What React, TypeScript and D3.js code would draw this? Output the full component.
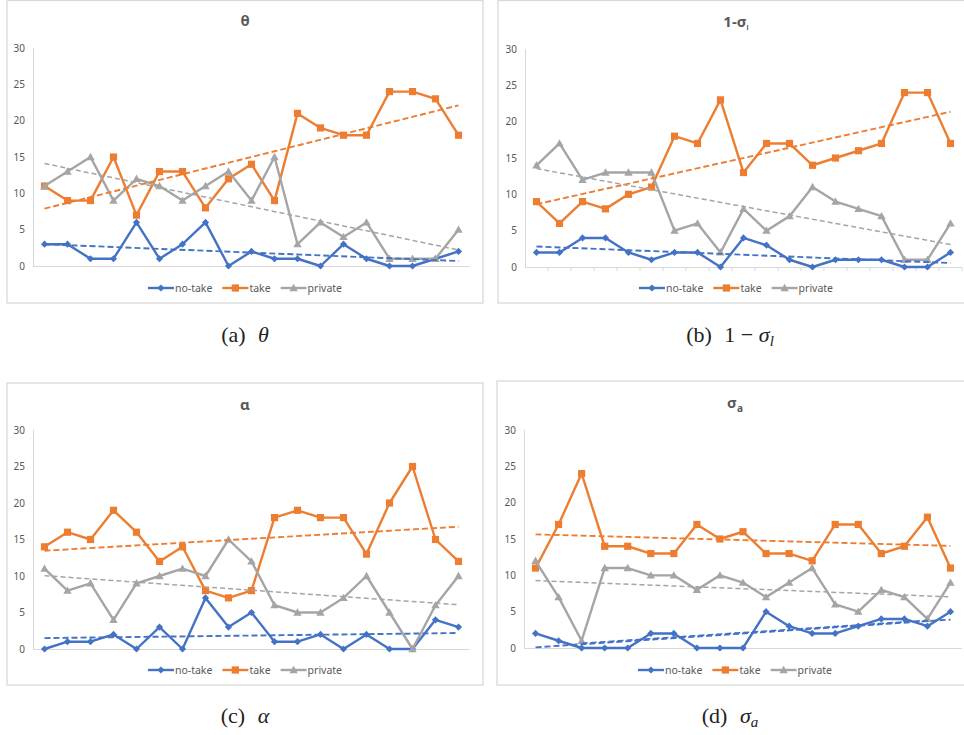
import React, { useEffect, useRef } from 'react';
import * as d3 from 'd3';

const categories = ['1','2','3','4','5','6','7','8','9','10','11','12','13','14','15','16','17','18','19'];
const yTicks = [0, 5, 10, 15, 20, 25, 30];
const seriesNames = ['no-take', 'take', 'private'];

const thetaNoTake = [3,3,1,1,6,1,3,6,0,2,1,1,0,3,1,0,0,1,2];
const thetaTake = [11,9,9,15,7,13,13,8,12,14,9,21,19,18,18,24,24,23,18];
const thetaPrivate = [11,13,15,9,12,11,9,11,13,9,15,3,6,4,6,1,1,1,5];

const sigmaLNoTake = [2,2,4,4,2,1,2,2,0,4,3,1,0,1,1,1,0,0,2];
const sigmaLTake = [9,6,9,8,10,11,18,17,23,13,17,17,14,15,16,17,24,24,17];
const sigmaLPrivate = [14,17,12,13,13,13,5,6,2,8,5,7,11,9,8,7,1,1,6];

const alphaNoTake = [0,1,1,2,0,3,0,7,3,5,1,1,2,0,2,0,0,4,3];
const alphaTake = [14,16,15,19,16,12,14,8,7,8,18,19,18,18,13,20,25,15,12];
const alphaPrivate = [11,8,9,4,9,10,11,10,15,12,6,5,5,7,10,5,0,6,10];

const sigmaANoTake = [2,1,0,0,0,2,2,0,0,0,5,3,2,2,3,4,4,3,5];
const sigmaATake = [11,17,24,14,14,13,13,17,15,16,13,13,12,17,17,13,14,18,11];
const sigmaAPrivate = [12,7,1,11,11,10,10,8,10,9,7,9,11,6,5,8,7,4,9];
// second no-take trend segment visible in panel (d): [category, value] endpoints
const sigmaANoTakeTrend2Cats = ['3', '18'];
const sigmaANoTakeTrend2Vals = [0.65, 3.8];

const COLORS = ['#4472C4', '#ED7D31', '#A5A5A5'];
const TEXT = '#595959';
const GRID = '#d9d9d9';
const FONT = '"Noto Sans", "Open Sans", sans-serif';

function linReg(vals: number[]) {
  const n = vals.length;
  const xs = vals.map((_, i) => i);
  const mx = d3.mean(xs) as number;
  const my = d3.mean(vals) as number;
  let sxy = 0, sxx = 0;
  for (let i = 0; i < n; i++) { sxy += (xs[i] - mx) * (vals[i] - my); sxx += (xs[i] - mx) ** 2; }
  const b = sxy / sxx;
  return (i: number) => my + b * (i - mx);
}

function markerPath(kind: number, cx: number, cy: number) {
  if (kind === 0) {
    const r = 3.6;
    return `M${cx},${cy - r}L${cx + r},${cy}L${cx},${cy + r}L${cx - r},${cy}Z`;
  }
  if (kind === 1) {
    const r = 3.6;
    return `M${cx - r},${cy - r}H${cx + r}V${cy + r}H${cx - r}Z`;
  }
  const r = 4.2;
  return `M${cx},${cy - r}L${cx + r},${cy + r * 0.75}L${cx - r},${cy + r * 0.75}Z`;
}

type Cfg = {
  fx: number; fy: number; fw: number; fh: number;
  x0: number; x1: number; yTop: number; yBot: number;
  titleY: number; legendY: number; xTicks: boolean;
  title: (t: any) => void;
};

function drawPanel(svg: any, cfg: Cfg, series: number[][], extra?: { cats: string[]; vals: number[] }) {
  const g = svg.append('g');
  g.append('rect')
    .attr('x', cfg.fx).attr('y', cfg.fy).attr('width', cfg.fw).attr('height', cfg.fh)
    .attr('fill', '#fff').attr('stroke', GRID).attr('stroke-width', 1.3);

  const x = d3.scaleBand().domain(categories).range([cfg.x0, cfg.x1]);
  const y = d3.scaleLinear().domain([0, 30]).range([cfg.yBot, cfg.yTop]);
  const cx = (c: string) => (x(c) as number) + x.bandwidth() / 2;

  g.selectAll('text.yt').data(yTicks).enter().append('text')
    .attr('x', cfg.x0 - 8).attr('y', (d: number) => y(d) + 3.5)
    .attr('text-anchor', 'end').attr('font-family', FONT).attr('font-size', 10)
    .attr('fill', TEXT).text((d: number) => String(d));

  g.append('line').attr('x1', cfg.x0 + 0.5).attr('x2', cfg.x0 + 0.5)
    .attr('y1', cfg.yTop).attr('y2', cfg.yBot).attr('stroke', GRID).attr('stroke-width', 1);
  g.append('line').attr('x1', cfg.x0).attr('x2', cfg.x1)
    .attr('y1', cfg.yBot + 0.5).attr('y2', cfg.yBot + 0.5).attr('stroke', GRID).attr('stroke-width', 1);
  if (cfg.xTicks) {
    categories.forEach((c) => {
      const xx = (x(c) as number) + x.bandwidth();
      g.append('line').attr('x1', xx).attr('x2', xx).attr('y1', cfg.yBot).attr('y2', cfg.yBot + 4)
        .attr('stroke', GRID).attr('stroke-width', 1);
    });
  }

  const line = d3.line<number>().x((_, i) => cx(categories[i])).y((d) => y(d));
  series.forEach((vals, si) => {
    g.append('path').attr('d', line(vals)).attr('fill', 'none')
      .attr('stroke', COLORS[si]).attr('stroke-width', 2.4).attr('stroke-linejoin', 'round');
    vals.forEach((v, i) => {
      g.append('path').attr('d', markerPath(si, cx(categories[i]), y(v))).attr('fill', COLORS[si]);
    });
  });

  series.forEach((vals, si) => {
    const f = linReg(vals);
    const n = vals.length - 1;
    g.append('line')
      .attr('x1', cx(categories[0])).attr('y1', y(f(0)))
      .attr('x2', cx(categories[n])).attr('y2', y(f(n)))
      .attr('stroke', COLORS[si]).attr('stroke-width', si === 2 ? 1.5 : 1.9)
      .attr('stroke-dasharray', si === 2 ? '5,3' : '6,3');
  });
  if (extra) {
    g.append('line')
      .attr('x1', cx(extra.cats[0])).attr('y1', y(extra.vals[0]))
      .attr('x2', cx(extra.cats[1])).attr('y2', y(extra.vals[1]))
      .attr('stroke', COLORS[0]).attr('stroke-width', 1.6).attr('stroke-dasharray', '6,3');
  }

  const t = g.append('text').attr('x', cfg.fx + cfg.fw / 2).attr('y', cfg.titleY)
    .attr('text-anchor', 'middle').attr('font-family', FONT).attr('font-size', 15)
    .attr('font-weight', 'bold').attr('fill', TEXT);
  cfg.title(t);

  const lg = g.append('g');
  let off = 0;
  seriesNames.forEach((name, si) => {
    const it = lg.append('g').attr('transform', `translate(${off},0)`);
    it.append('line').attr('x1', 0).attr('x2', 26).attr('y1', 0).attr('y2', 0)
      .attr('stroke', COLORS[si]).attr('stroke-width', 2.4);
    it.append('path').attr('d', markerPath(si, 13, 0)).attr('fill', COLORS[si]);
    const tx = it.append('text').attr('x', 27).attr('y', 3.6).attr('font-family', FONT)
      .attr('font-size', 10.5).attr('fill', TEXT).text(name);
    const w = (tx.node() as SVGTextElement).getComputedTextLength();
    off += 27 + w + 10;
  });
  off -= 10;
  lg.attr('transform', `translate(${cfg.fx + cfg.fw / 2 - off / 2},${cfg.legendY})`);
}

export default function App() {
  const ref = useRef<SVGSVGElement>(null);
  useEffect(() => {
    const svg = d3.select(ref.current);
    svg.selectAll('*').remove();

    drawPanel(svg, {
      fx: 7, fy: 0.5, fw: 476, fh: 302.5, x0: 33, x1: 470, yTop: 48, yBot: 266,
      titleY: 26, legendY: 288, xTicks: false,
      title: (t) => t.text('θ'),
    }, [thetaNoTake, thetaTake, thetaPrivate]);

    drawPanel(svg, {
      fx: 498, fy: 0.5, fw: 476, fh: 302.5, x0: 525, x1: 962, yTop: 49, yBot: 267,
      titleY: 27, legendY: 288, xTicks: true,
      title: (t) => {
        t.append('tspan').text('1-σ');
        t.append('tspan').attr('font-size', 7).attr('dy', 3).text('l');
      },
    }, [sigmaLNoTake, sigmaLTake, sigmaLPrivate]);

    drawPanel(svg, {
      fx: 7, fy: 383, fw: 476, fh: 302, x0: 33, x1: 470, yTop: 430, yBot: 649,
      titleY: 410, legendY: 670, xTicks: false,
      title: (t) => t.text('α'),
    }, [alphaNoTake, alphaTake, alphaPrivate]);

    drawPanel(svg, {
      fx: 497, fy: 381, fw: 476, fh: 304, x0: 524, x1: 962, yTop: 430, yBot: 648,
      titleY: 408, legendY: 670, xTicks: false,
      title: (t) => {
        t.append('tspan').text('σ');
        t.append('tspan').attr('font-size', 10).attr('dy', 4).text('a');
      },
    }, [sigmaANoTake, sigmaATake, sigmaAPrivate], { cats: sigmaANoTakeTrend2Cats, vals: sigmaANoTakeTrend2Vals });

    const cap = (xc: number, yb: number, build: (t: any) => void) => {
      const t = svg.append('text').attr('x', xc).attr('y', yb).attr('text-anchor', 'middle')
        .attr('font-family', '"Liberation Serif", "DejaVu Serif", serif').attr('font-size', 22)
        .attr('fill', '#222');
      build(t);
    };
    cap(245, 342, (t) => {
      t.append('tspan').text('(a) ');
      t.append('tspan').attr('dx', 7).attr('font-style', 'italic').text('θ');
    });
    cap(730, 342, (t) => {
      t.append('tspan').text('(b) ');
      t.append('tspan').attr('dx', 7).text('1 − ');
      t.append('tspan').attr('font-style', 'italic').text('σ');
      t.append('tspan').attr('font-style', 'italic').attr('font-size', 15).attr('dy', 4).text('l');
    });
    cap(245, 723, (t) => {
      t.append('tspan').text('(c) ');
      t.append('tspan').attr('dx', 7).attr('font-style', 'italic').text('α');
    });
    cap(730, 723, (t) => {
      t.append('tspan').text('(d) ');
      t.append('tspan').attr('dx', 7).attr('font-style', 'italic').text('σ');
      t.append('tspan').attr('font-style', 'italic').attr('font-size', 15).attr('dy', 4).text('a');
    });
  }, []);

  return (
    <svg ref={ref} width={964} height={735}
      style={{ position: 'absolute', left: 0, top: 0, background: '#fff', display: 'block' }} />
  );
}
